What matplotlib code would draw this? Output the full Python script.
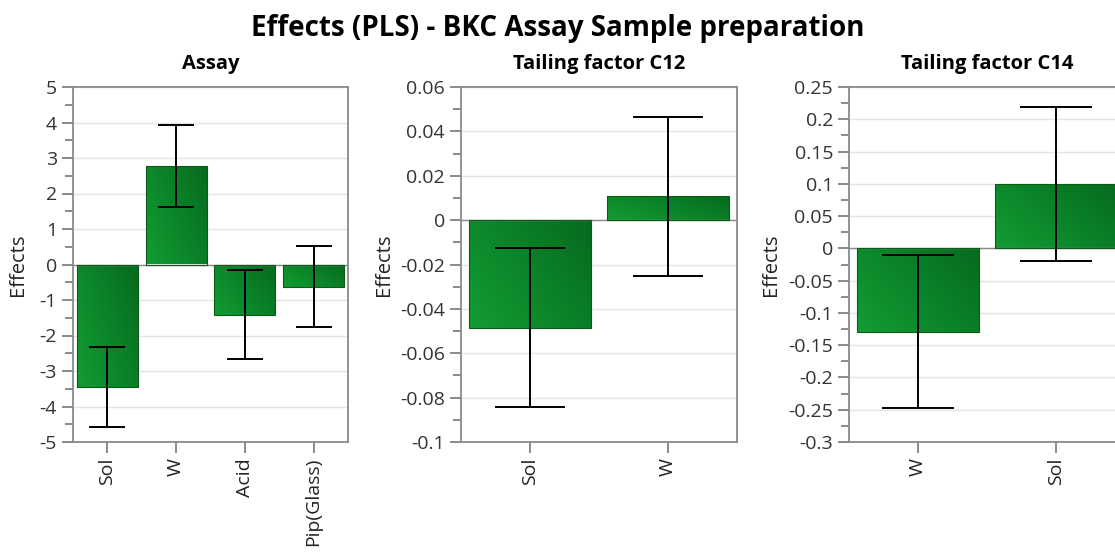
import numpy as np
import matplotlib
matplotlib.use("Agg")
import matplotlib.pyplot as plt
from matplotlib.colors import LinearSegmentedColormap
from matplotlib.ticker import MultipleLocator, FuncFormatter

plt.rcParams["font.family"] = ["Open Sans", "DejaVu Sans"]

# ---- data ----
assay_factors = ["Sol", "W", "Acid", "Pip(Glass)"]
assay_effects = [-3.45, 2.77, -1.41, -0.62]
assay_err = [1.14, 1.15, 1.25, 1.13]

c12_factors = ["Sol", "W"]
c12_effects = [-0.0485, 0.0108]
c12_err = [0.0358, 0.0359]

c14_factors = ["W", "Sol"]
c14_effects = [-0.129, 0.100]
c14_err = [0.119, 0.119]

panels = [
    ("Assay", assay_factors, assay_effects, assay_err, (-5, 5), 1, 0.5),
    ("Tailing factor C12", c12_factors, c12_effects, c12_err, (-0.1, 0.06), 0.02, 0.01),
    ("Tailing factor C14", c14_factors, c14_effects, c14_err, (-0.3, 0.25), 0.05, 0.025),
]

W, H = 1115, 552
# axes boxes in pixels: left, right, top, bottom (last one runs off the right edge)
boxes = [(73, 348, 87, 442), (461, 737, 87, 442), (849, 1125, 87, 442)]
capsizes = [13, 25, 26]
labelpads = [8, 4, 5]

green = LinearSegmentedColormap.from_list("grn", ["#139c33", "#0b8429", "#076a1e"])
# light towards bottom-left, dark towards top-right
grad = np.add.outer(0.6 * np.linspace(0, 1, 64), np.linspace(0, 1, 64)) / 1.6


def fmt(v, pos):
    s = f"{v:.3f}".rstrip("0").rstrip(".")
    return "0" if s in ("-0", "0") else s


fig = plt.figure(figsize=(W / 100, H / 100), dpi=100)
fig.text(0.5, 1 - 36 / H, "Effects (PLS) - BKC Assay Sample preparation",
         ha="center", va="baseline", fontsize=20, fontweight="bold")

for (title, cats, vals, errs, ylim, major, minor), (l, r, t, b), cs, lp in zip(
        panels, boxes, capsizes, labelpads):
    ax = fig.add_axes([l / W, 1 - b / H, (r - l) / W, (b - t) / H])
    x = np.arange(len(cats))
    bars = ax.bar(x, vals, width=0.89, color="none", edgecolor="#0b5a18", lw=0.8, zorder=3)
    for bar in bars:
        bx, by = bar.get_x(), bar.get_y()
        bw, bh = bar.get_width(), bar.get_height()
        y0, y1 = min(by, by + bh), max(by, by + bh)
        im = ax.imshow(grad, extent=[bx, bx + bw, y0, y1], cmap=green, aspect="auto",
                       origin="lower", zorder=2, interpolation="bilinear")
        im.set_clip_path(bar)
    ax.errorbar(x, vals, yerr=errs, fmt="none", ecolor="black", elinewidth=1.4,
                capsize=cs, capthick=1.4, zorder=4)
    ax.axhline(0, color="#8a8a8a", lw=1.0, zorder=2.5)
    ax.set_xlim(-0.5, len(cats) - 0.5)
    ax.set_ylim(*ylim)
    ax.yaxis.set_major_locator(MultipleLocator(major))
    ax.yaxis.set_minor_locator(MultipleLocator(minor))
    ax.yaxis.set_major_formatter(FuncFormatter(fmt))
    ax.grid(axis="y", which="major", color="#e4e4e4", lw=1.0, zorder=0)
    ax.set_axisbelow(True)
    ax.set_xticks(x)
    ax.set_xticklabels(cats, rotation=90, fontsize=14)
    ax.tick_params(axis="y", labelsize=14, colors="#333333", length=8, width=1.2, color="#777777")
    ax.tick_params(axis="y", which="minor", length=5.5, width=1.2, color="#777777")
    ax.tick_params(axis="x", length=8, width=1.2, color="#777777", labelcolor="#222222")
    for sp in ax.spines.values():
        sp.set_color("#8a8a8a")
        sp.set_linewidth(1.3)
    ax.set_ylabel("Effects", fontsize=14.5, labelpad=lp, color="#222222")
    ax.set_title(title, fontsize=14.5, fontweight="bold", pad=13)

fig.savefig("out.png", dpi=100)
